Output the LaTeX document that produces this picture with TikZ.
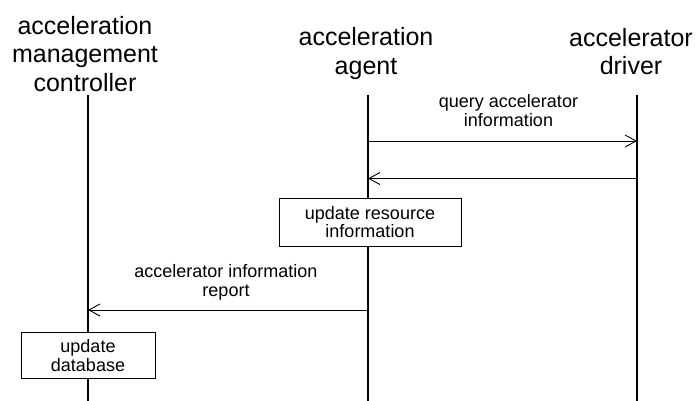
\documentclass[tikz,border=0pt]{standalone}
\usepackage{fontspec}
\setmainfont{Liberation Sans}
\usetikzlibrary{arrows.meta}
\begin{document}
\begin{tikzpicture}[x=1pt,y=-1pt,
  head/.style={align=center,inner sep=0pt,font=\fontsize{25}{28.5}\selectfont},
  lbl/.style={align=center,inner sep=0pt,font=\fontsize{18}{19.5}\selectfont},
  act/.style={draw,line width=0.9pt,fill=white,align=center,inner sep=0pt,font=\fontsize{18}{18.5}\selectfont},
  life/.style={line width=1.5pt},
  msg/.style={line width=0.9pt,-{Straight Barb[length=11pt,width=12pt,line width=0.9pt]}}]
\useasboundingbox (0,0) rectangle (698,401);
% headers
\node[head,anchor=base] (hc) at (85,91.3) {acceleration\\management\\controller};
\node[head,anchor=base] (ha) at (366,74.5) {acceleration\\agent};
\node[head,anchor=base] (hd) at (631,75) {accelerator\\driver};
% lifelines
\coordinate (ct) at (88,95);  \coordinate (cb) at (88,401);
\coordinate (at) at (368,95); \coordinate (ab) at (368,401);
\coordinate (dt) at (637,95); \coordinate (db) at (637,401);
\draw[life] (ct) -- (cb);
\draw[life] (at) -- (ab);
\draw[life] (dt) -- (db);
% messages
\coordinate (m1s) at (368,141); \coordinate (m1e) at (637,141);
\coordinate (m2s) at (637,178.5); \coordinate (m2e) at (368,178.5);
\coordinate (m3s) at (368,310); \coordinate (m3e) at (88,310);
\draw[msg] (m1s) -- (m1e);
\node[lbl,anchor=base] (l1) at (508.5,127) {query accelerator\\information};
\draw[msg] (m2s) -- (m2e);
\draw[msg] (m3s) -- (m3e);
\node[lbl,anchor=base] (l3) at (226,296.7) {accelerator information\\report};
% activity boxes
\node[act,minimum width=182pt,minimum height=48.5pt] (b1) at (370,222.3) {update resource\\information};
\node[act,minimum width=134pt,minimum height=45.3pt] (b2) at (88,355.4) {update\\database};
\end{tikzpicture}
\end{document}
